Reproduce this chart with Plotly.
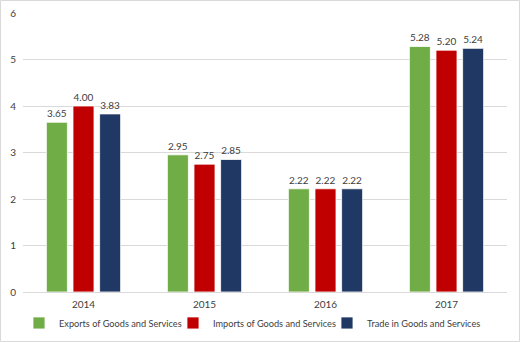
import plotly.graph_objects as go

years = ["2014", "2015", "2016", "2017"]
exports = [3.65, 2.95, 2.22, 5.28]
imports = [4.00, 2.75, 2.22, 5.20]
trade = [3.83, 2.85, 2.22, 5.24]

series = [
    ("Exports of Goods and Services", exports, "#70ad47"),
    ("Imports of Goods and Services", imports, "#c00000"),
    ("Trade in Goods and Services", trade, "#203864"),
]

FONT = "Lato, 'Open Sans', sans-serif"

fig = go.Figure()
for name, vals, color in series:
    fig.add_trace(go.Bar(
        x=years, y=vals, name=name,
        marker=dict(color=color, line=dict(color="white", width=0.8)),
        texttemplate="%{y:.2f}", textposition="outside",
        textfont=dict(family=FONT, size=10, color="#404040"),
        cliponaxis=False,
    ))

W, H = 520, 342
ml, mr, mt, mb = 23, 13, 13, 50
pw, ph = W - ml - mr, H - mt - mb

fig.update_layout(
    width=W, height=H,
    margin=dict(l=ml, r=mr, t=mt, b=mb, autoexpand=False),
    paper_bgcolor="white", plot_bgcolor="white",
    barmode="group", bargap=0.34, bargroupgap=0.21,
    font=dict(family=FONT, size=10, color="#404040"),
    showlegend=True,
    legend=dict(orientation="h", x=0.469, xanchor="center", y=-0.059, yanchor="top",
                font=dict(family=FONT, size=9.2, color="#404040"),
                itemwidth=30, entrywidth=109, entrywidthmode="pixels",
                traceorder="normal"),
    xaxis=dict(showgrid=False, showline=True, linecolor="#d9d9d9", linewidth=1,
               ticks="", tickfont=dict(size=10, color="#404040"), ticklabelstandoff=3),
    yaxis=dict(range=[0, 6], dtick=1, showgrid=True, gridcolor="#d9d9d9", gridwidth=1,
               zeroline=False, showline=False, ticks="", tickformat="d",
               tickfont=dict(size=10, color="#404040"), ticklabelstandoff=6),
    shapes=[dict(type="rect", xref="paper", yref="paper",
                 x0=(0.5 - ml) / pw, x1=(W - 0.5 - ml) / pw,
                 y0=-(mb - 0.5) / ph, y1=1 + (mt - 0.5) / ph,
                 line=dict(color="#d9d9d9", width=1), layer="below")],
)

fig.write_html("out.html")
